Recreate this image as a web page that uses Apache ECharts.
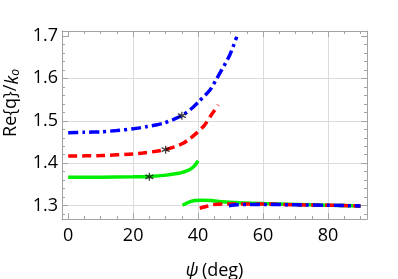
<!DOCTYPE html>
<html><head><meta charset="utf-8">
<script src="https://cdn.jsdelivr.net/npm/echarts@6/dist/echarts.min.js"></script>
<style>html,body{margin:0;padding:0;background:#fff}#c{width:398px;height:279px}</style>
</head><body><div id="c"></div>
<script>
// ---- tick / grid values ----
const xMajorTicks = [0, 20, 40, 60, 80];
const xMinorTicks = [5, 10, 15, 25, 30, 35, 45, 50, 55, 65, 70, 75, 85, 90];
const xGridLines = [20, 40, 60, 80];
const yMajorTicks = [1.3, 1.4, 1.5, 1.6, 1.7];
const yMinorTicks = [1.28, 1.32, 1.34, 1.36, 1.38, 1.42, 1.44, 1.46, 1.48, 1.52, 1.54, 1.56, 1.58, 1.62, 1.64, 1.66, 1.68];
const yGridLines = [1.3, 1.4, 1.5, 1.6];

// ---- series values [psi (deg), Re{q}/k0] ----
const blueUpper = [[0,1.472],[5,1.473],[10,1.474],[15,1.477],[20,1.481],[24,1.486],[27,1.490],[29.2,1.494],[32.3,1.503],[35,1.512],[38,1.529],[40.3,1.546],[43.6,1.572],[45.8,1.600],[49.75,1.655],[51.9,1.698]];
const redUpper = [[0,1.417],[10,1.418],[20,1.422],[23,1.424],[27,1.428],[30,1.432],[33,1.439],[35.4,1.447],[37.5,1.458],[39.5,1.471],[42,1.490],[44.1,1.514],[46.2,1.537]];
const greenUpper = [[0,1.367],[10,1.367],[20,1.368],[25,1.369],[30.3,1.372],[33,1.375],[34.9,1.378],[36.5,1.382],[38,1.388],[39,1.395],[40,1.406]];
const greenLower = [[35.2,1.301],[37,1.308],[39,1.312],[41,1.313],[44,1.312],[47.7,1.309],[52.8,1.307],[60,1.305],[70,1.303],[80,1.301],[90,1.2995]];
const redLower = [[40.5,1.294],[42.5,1.298],[44.1,1.302],[47.7,1.304],[52.8,1.304],[60,1.304],[70,1.302],[80,1.301],[90,1.2995]];
const blueLower = [[49.5,1.300],[52,1.302],[56,1.303],[60,1.303],[70,1.302],[80,1.301],[90,1.2995]];
const stars = [[35,1.512],[30,1.432],[25,1.368]];

const X_MIN = -1.9, X_MAX = 92, Y_MIN = 1.2686, Y_MAX = 1.7116;
const FRAME = '#a3a3a3', GRID = '#dadada', FONT = 'Open Sans';

function xAx(pos, ticks, len, opts) {
  return Object.assign({
    type: 'value', position: pos, min: X_MIN, max: X_MAX,
    axisLine: {show: false, onZero: false},
    axisTick: {show: true, inside: true, length: len, customValues: ticks, lineStyle: {color: FRAME, width: 1}},
    axisLabel: {show: false},
    splitLine: {show: false}
  }, opts || {});
}
function yAx(pos, ticks, len, opts) {
  return Object.assign({
    type: 'value', position: pos, min: Y_MIN, max: Y_MAX,
    axisLine: {show: false, onZero: false},
    axisTick: {show: true, inside: true, length: len, customValues: ticks, lineStyle: {color: FRAME, width: 1}},
    axisLabel: {show: false},
    splitLine: {show: false}
  }, opts || {});
}

const chart = echarts.init(document.getElementById('c'), null, {renderer: 'canvas'});
chart.setOption({
  animation: false,
  backgroundColor: '#fff',
  grid: {left: 62, right: 31, top: 31, bottom: 60, containLabel: false, outerBoundsMode: 'none'},
  xAxis: [
    xAx('bottom', xMajorTicks, 6, {
      axisLine: {show: true, onZero: false, lineStyle: {color: FRAME, width: 1}},
      axisLabel: {show: true, customValues: xMajorTicks, margin: 8, color: '#000', fontSize: 18, fontFamily: FONT},
      name: '{i|ψ} {n|(deg)}', nameLocation: 'middle', nameGap: 43,
      nameTextStyle: {rich: {i: {fontSize: 18, fontStyle: 'italic', fontFamily: FONT, color: '#000'}, n: {fontSize: 18, fontFamily: FONT, color: '#000'}}}
    }),
    xAx('bottom', xMinorTicks, 3),
    xAx('top', xMajorTicks, 6, {axisLine: {show: true, onZero: false, lineStyle: {color: FRAME, width: 1}}}),
    xAx('top', xMinorTicks, 3),
    xAx('bottom', xGridLines, 0, {axisTick: {show: false, customValues: xGridLines}, splitLine: {show: true, lineStyle: {color: GRID, width: 1}}})
  ],
  yAxis: [
    yAx('left', yMajorTicks, 6, {
      axisLine: {show: true, onZero: false, lineStyle: {color: FRAME, width: 1}},
      axisLabel: {show: true, customValues: yMajorTicks, margin: 4, color: '#000', fontSize: 18, fontFamily: FONT, formatter: v => v.toFixed(1)},
      name: 'Re{q}/{k|k}{s|o}', nameLocation: 'middle', nameGap: 38, nameRotate: 90,
      nameTextStyle: {padding: [0, 0, 0, 44], fontSize: 18, lineHeight: 22, verticalAlign: 'bottom', fontFamily: FONT, color: '#000', rich: {
        k: {fontSize: 18, lineHeight: 22, verticalAlign: 'bottom', fontStyle: 'italic', fontFamily: FONT, color: '#000'},
        s: {fontSize: 12, lineHeight: 12, verticalAlign: 'bottom', fontStyle: 'italic', fontFamily: FONT, color: '#000'}
      }}
    }),
    yAx('left', yMinorTicks, 3),
    yAx('right', yMajorTicks, 6, {axisLine: {show: true, onZero: false, lineStyle: {color: FRAME, width: 1}}}),
    yAx('right', yMinorTicks, 3),
    yAx('left', yGridLines, 0, {axisTick: {show: false, customValues: yGridLines}, splitLine: {show: true, lineStyle: {color: GRID, width: 1}}})
  ],
  series: [
    {type: 'line', data: greenUpper, showSymbol: false, smooth: 0.2, lineStyle: {color: '#00ee00', width: 3.5}},
    {type: 'line', data: greenLower, showSymbol: false, smooth: 0.2, lineStyle: {color: '#00ee00', width: 3.5}},
    {type: 'line', data: redUpper, showSymbol: false, smooth: 0.2, lineStyle: {color: '#ff0000', width: 3.5, type: [9, 5], cap: 'butt'}},
    {type: 'line', data: redLower, showSymbol: false, smooth: 0.2, lineStyle: {color: '#ff0000', width: 3.5, type: [9, 5], cap: 'butt'}},
    {type: 'line', data: blueUpper, showSymbol: false, smooth: 0.2, lineStyle: {color: '#0000ff', width: 3.5, type: [10, 4, 3, 4], cap: 'butt'}},
    {type: 'line', data: blueLower, showSymbol: false, smooth: 0.2, lineStyle: {color: '#0000ff', width: 3.5, type: [10, 4, 3, 4], cap: 'butt'}},
    {type: 'scatter', data: stars, symbol: 'path://M0,-5L0,5M-4.33,-2.5L4.33,2.5M-4.33,2.5L4.33,-2.5', symbolSize: 8,
     itemStyle: {color: 'none', borderColor: '#111', borderWidth: 1.3}, z: 5}
  ]
});
</script></body></html>
